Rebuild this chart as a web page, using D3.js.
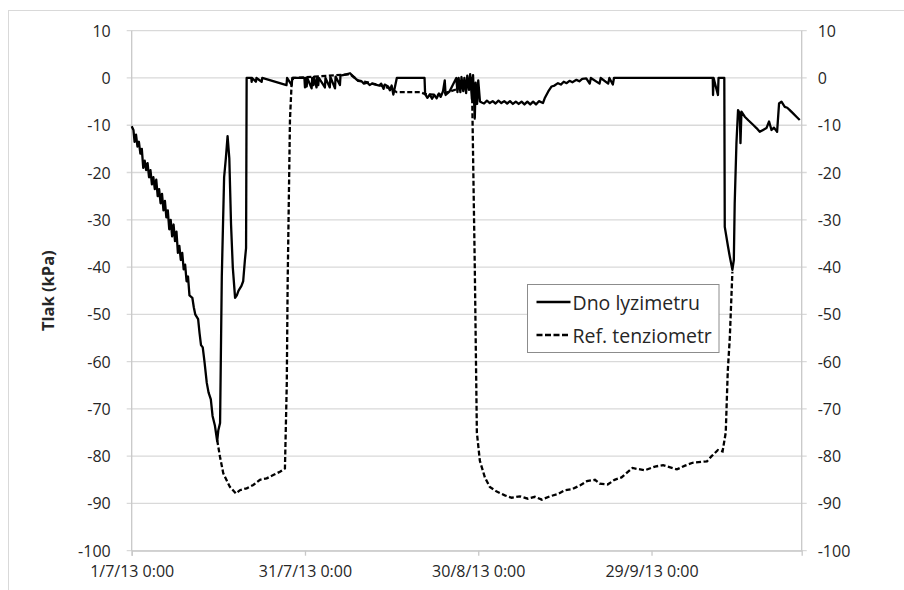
<!DOCTYPE html>
<html>
<head>
<meta charset="utf-8">
<script src="https://cdn.jsdelivr.net/npm/d3@7"></script>
<style>
    body { margin: 0; background: #fff; }
    svg { display: block; font-family: "Open Sans", sans-serif; }
</style>
</head>
<body>
<svg></svg>
<script>
// days since 1/7/13 0:00 and pressure in kPa
const dnoDays = [0, 0.3, 0.5, 0.75, 1.0, 1.25, 1.5, 1.75, 2.0, 2.25, 2.5, 2.75, 3.0, 3.25, 3.5, 3.75,
    4.0, 4.25, 4.5, 4.75, 5.0, 5.25, 5.5, 5.75, 6.0, 6.25, 6.5, 6.75, 7.0, 7.25, 7.5, 7.75,
    8.0, 8.25, 8.5, 8.75, 9.0, 9.25, 9.5, 9.75, 10.0, 10.5, 10.75, 11.0, 11.5, 11.75, 12.0, 12.3,
    12.6, 13.0, 13.3, 13.7, 14.0, 14.4, 14.8, 15.0, 15.3, 15.6, 16.0, 16.3, 16.6, 16.9, 17.2, 17.5,
    17.9, 18.2, 18.5, 19.0, 19.3, 19.6, 19.8, 19.9,
    20.7, 20.77, 20.85, 21.5, 21.6, 22.5, 22.6, 26.8, 26.9, 27.7, 27.8, 29.9, 30.0, 30.1, 30.3, 30.4,
    31.15, 31.25, 31.45, 31.55, 32.0, 32.1, 32.3, 32.4, 33.45, 33.55, 34.3, 34.4, 35.2, 35.3, 36.05, 36.15,
    37.0, 37.8, 38.3, 38.9, 39.2, 39.8, 40.2, 40.8, 41.2, 41.6, 42.2, 42.9, 43.2, 43.6, 43.8, 44.4,
    44.7, 45.0, 45.3, 45.9, 50.7, 50.8, 51.2, 51.6, 52.0, 52.4, 52.8, 53.2, 53.5, 53.9, 54.2, 54.35,
    55.0, 56.2, 56.4, 56.6, 56.9, 57.1, 57.4, 57.6, 57.9, 58.1, 58.4, 58.6, 58.9, 59.1, 59.4, 59.55,
    59.8, 60.0, 60.3, 60.6, 61.0, 61.5, 62.0, 62.5, 63.0, 63.5, 64.0, 64.5, 65.0, 65.5, 66.0, 66.5,
    67.0, 67.5, 68.0, 68.5, 69.0, 69.5, 70.0, 70.5, 71.2, 71.5, 72.1, 72.7, 73.2, 73.8, 74.3, 74.8,
    75.3, 75.8, 76.3, 77.0, 77.5, 78.0, 78.7, 79.3, 79.5, 81.0, 81.2, 82.5, 82.7, 83.3, 83.5, 100.6,
    100.65, 100.75, 101.5, 101.6, 102.6, 102.68, 103.25, 103.55, 104.0, 104.25, 104.4, 104.7, 104.98, 105.28, 105.4, 105.57,
    106.14, 106.8, 107.58, 108.17, 108.74, 109.31, 109.9, 110.35, 110.77, 111.2, 111.74, 112.08, 112.5, 113.07, 113.5, 113.94,
    114.51, 115.09, 115.66];
const dnoValues = [-10.2, -11, -13.5, -12, -14.5, -13.5, -16, -15, -19, -17.5, -19.5, -18, -21, -19.5, -22.5, -21,
    -23.5, -21.5, -25, -23.5, -26.5, -24.5, -28, -26, -29.5, -28, -32, -30, -33.5, -31, -34.5, -32.5,
    -37, -35.5, -38.5, -37, -40.5, -39.5, -43, -42, -46, -46.5, -48.5, -50, -51, -54, -56.5, -57,
    -60, -64.5, -66.5, -68, -71.5, -73.5, -76.8, -74.5, -73, -42, -21, -17, -12.3, -17, -31, -40,
    -46.5, -46, -45, -44, -43, -38.5, -36, 0,
    0, -0.8, 0, -0.8, 0, -0.8, 0, -1.5, 0, -1.5, 0, 0, -2, 0, -1.8, 0,
    -2.2, 0, -1.5, 0.2, -2, 0, -1.5, 0, -2, 0, -2, 0.2, -2.2, 0.3, -1.5, 0.5,
    0.7, 1.0, 0.4, -0.3, -0.6, -0.7, -1.2, -1, -1.5, -1.2, -1.4, -1.6, -1.2, -2.3, -1.4, -1.8,
    -2.6, -1.6, -3.5, 0, 0, -3.4, -4.2, -3.5, -4.4, -3.6, -4.3, -3.3, -4.0, -2.8, -0.5, -3.6,
    -2.9, 0, -3, 0, -3, 0.2, -2.8, 0, -3.2, 0.5, -2.5, 0.8, -4.5, 0.6, -8.6, -1,
    -5.5, -0.5, -5, -5.2, -5.4, -4.8, -5.3, -4.9, -5.4, -4.8, -5.3, -4.9, -5.4, -4.9, -5.5, -5.0,
    -5.5, -5.0, -5.6, -5.0, -5.6, -5.0, -5.6, -4.9, -5.3, -4.3, -2.9, -1.8, -1.6, -1.1, -1.4, -0.8,
    -1.1, -0.6, -0.9, -0.4, -0.7, -0.2, -0.1, -1.2, 0, -1.2, 0, -1.2, 0, -1.4, 0, 0,
    -3.6, 0, -3.6, 0, 0, -31.5, -35.7, -37.8, -40.6, -38.5, -26.5, -13.8, -6.8, -7.5, -13.8, -7.1,
    -8.2, -9, -9.9, -10.6, -11.4, -11, -10.6, -9.2, -11, -10.5, -11.4, -5.4, -5, -6.1, -6.3, -6.8,
    -7.5, -8.2, -8.9];

const refDays = [14.8, 15.28, 15.85, 17.0, 18.05, 18.74, 19.9, 21.05, 22.2, 23.36, 24.51, 25.67, 26.53, 26.85, 27.0, 27.4,
    27.7, 28.0, 37.8, 39.2, 42.9, 44.7, 45.9, 49.9, 50.8, 53.4, 54.2, 56.0, 58.0, 58.9, 59.4, 59.76,
    60.28, 61.15, 62.0, 63.2, 64.6, 65.8, 67.2, 68.6, 69.8, 71.0, 72.4, 73.8, 75.0, 76.2, 77.6, 78.8,
    80.2, 81.0, 82.4, 83.6, 84.8, 86.7, 88.8, 90.6, 92.0, 94.4, 95.8, 97.1, 99.6, 100.4, 101.5, 102.3,
    102.85, 103.2, 103.55, 104.0];
const refValues = [-76.6, -80.1, -83.6, -86.5, -87.9, -87.2, -86.8, -86.1, -85, -84.7, -84, -83.3, -82.6, -64.6, -43.4, -8.9,
    -0.8, 0, 0.8, -0.5, -1.5, -2.2, -3.0, -3.0, -3.4, -3.6, -3.2, -2.5, -1, 0, -40, -75,
    -81, -84.5, -86.5, -87.5, -88.3, -88.8, -88.5, -89, -88.6, -89.2, -88.5, -88.0, -87.2, -87.0, -86.2, -85.3,
    -85, -85.8, -86, -85, -84.5, -82.5, -83, -82.2, -81.9, -82.8, -82, -81.4, -81.1, -80, -78.7, -79.0,
    -75, -62, -55, -41];

const tickDates = ["2013-07-01", "2013-07-31", "2013-08-30", "2013-09-29"];
const seriesNames = ["Dno lyzimetru", "Ref. tenziometr"];

const W = 904, H = 590;
const margin = {
    top: 30.7,
    right: 102.3,
    left: 131.7,
    bottom: 39.3
};

const start = Date.UTC(2013, 6, 1);
const toDate = d => new Date(start + d * 864e5);

const dno = dnoDays.map((d, i) => ({ date: toDate(d), value: dnoValues[i] }));
const ref = refDays.map((d, i) => ({ date: toDate(d), value: refValues[i] }));

// x
const x = d3.scaleUtc()
    .domain([toDate(0), new Date(Date.UTC(2013, 9, 25))])
    .range([margin.left, W - margin.right]);

const xAxis = d3.axisBottom(x)
    .tickValues(tickDates.map(s => d3.utcParse("%Y-%m-%d")(s)))
    .tickFormat(d3.utcFormat("%-d/%-m/%y %-H:%M"))
    .tickSizeOuter(0)
    .tickSize(5)
    .tickPadding(10);

// y
const y = d3.scaleLinear()
    .domain([-100, 10])
    .range([H - margin.bottom, margin.top]);

const yTicks = d3.range(-100, 11, 10);

const svg = d3.select('svg')
    .attr('width', W)
    .attr('height', H);

// chart frame
svg.append('rect')
    .attr('x', 8.5).attr('y', 10.5)
    .attr('width', W).attr('height', H)
    .attr('fill', 'none')
    .attr('stroke', '#d9d9d9');

// gridlines
svg.append('g')
    .selectAll('line')
    .data(yTicks)
    .join('line')
    .attr('x1', margin.left - 5)
    .attr('x2', W - margin.right + 5)
    .attr('y1', d => y(d))
    .attr('y2', d => y(d))
    .attr('stroke', '#d9d9d9')
    .attr('stroke-width', 1.3);

// left & right axis lines
svg.append('line')
    .attr('x1', margin.left).attr('x2', margin.left)
    .attr('y1', margin.top).attr('y2', H - margin.bottom)
    .attr('stroke', '#c8c8c8').attr('stroke-width', 1.3);
svg.append('line')
    .attr('x1', W - margin.right).attr('x2', W - margin.right)
    .attr('y1', margin.top).attr('y2', H - margin.bottom)
    .attr('stroke', '#c8c8c8').attr('stroke-width', 1.3);

// y labels, both sides
const labelStyle = sel => sel
    .attr('font-size', 16)
    .attr('fill', '#262626')
    .attr('dominant-baseline', 'central');

svg.append('g')
    .selectAll('text')
    .data(yTicks)
    .join('text')
    .attr('x', margin.left - 21)
    .attr('y', d => y(d))
    .attr('text-anchor', 'end')
    .text(d => d)
    .call(labelStyle);

svg.append('g')
    .selectAll('text')
    .data(yTicks)
    .join('text')
    .attr('x', W - margin.right + 16)
    .attr('y', d => y(d))
    .attr('text-anchor', 'start')
    .text(d => d)
    .call(labelStyle);

// x axis
const gx = svg.append('g')
    .attr('transform', `translate(0, ${H - margin.bottom})`)
    .call(xAxis);
gx.select('.domain').attr('stroke', '#c8c8c8').attr('stroke-width', 1.3);
gx.selectAll('.tick line').attr('stroke', '#c8c8c8').attr('stroke-width', 1.3);
gx.selectAll('.tick text')
    .attr('font-family', '"Open Sans", sans-serif')
    .attr('font-size', 16)
    .attr('fill', '#262626');

// y title
svg.append('text')
    .attr('transform', `translate(47, ${(margin.top + H - margin.bottom) / 2}) rotate(-90)`)
    .attr('text-anchor', 'middle')
    .attr('dominant-baseline', 'central')
    .attr('font-size', 16.5)
    .attr('font-weight', 'bold')
    .attr('fill', '#262626')
    .text('Tlak (kPa)');

// lines
const line = d3.line()
    .x(d => x(d.date))
    .y(d => y(d.value));

svg.append('path')
    .datum(ref)
    .attr('fill', 'none')
    .attr('stroke', 'black')
    .attr('stroke-width', 2.3)
    .attr('stroke-dasharray', '5,2.5')
    .attr('d', line);

svg.append('path')
    .datum(dno)
    .attr('fill', 'none')
    .attr('stroke', 'black')
    .attr('stroke-width', 2.3)
    .attr('stroke-linejoin', 'round')
    .attr('d', line);

// legend
const legend = svg.append('g')
    .attr('transform', 'translate(527.5, 284.5)');

legend.append('rect')
    .attr('width', 191.5)
    .attr('height', 68)
    .attr('fill', 'white')
    .attr('stroke', '#8c8c8c');

const rows = legend.selectAll('g')
    .data(seriesNames)
    .join('g')
    .attr('transform', (d, i) => `translate(0, ${17.5 + i * 33})`);

rows.append('line')
    .attr('x1', 9).attr('x2', 43)
    .attr('stroke', 'black')
    .attr('stroke-width', 2.3)
    .attr('stroke-dasharray', (d, i) => i ? '6,2.5' : null);

rows.append('text')
    .attr('x', 45)
    .attr('dominant-baseline', 'central')
    .attr('font-size', 19.5)
    .attr('fill', '#262626')
    .text(d => d);
</script>
</body>
</html>
